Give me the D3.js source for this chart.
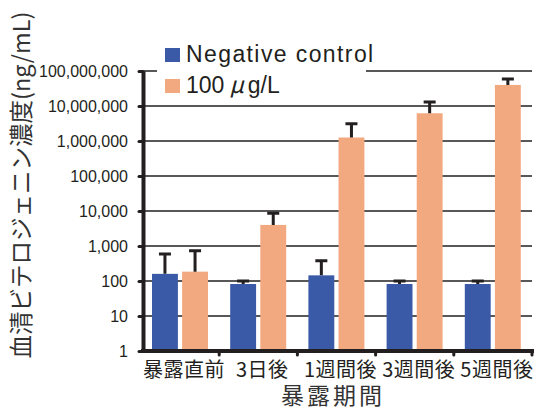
<!DOCTYPE html>
<html>
<head>
<meta charset="utf-8">
<script src="https://cdn.jsdelivr.net/npm/d3@7"></script>
<style>
  body { margin: 0; background: #fff; }
  svg { display: block; }
</style>
</head>
<body>
<div id="chart"></div>
<script>
// データ
const categories = ["暴露直前", "3日後", "1週間後", "3週間後", "5週間後"];
const seriesNames = ["Negative control", "100μg/L"];
const controlMean = [160, 82, 145, 82, 82];
const controlSD = [430, 18, 235, 18, 18];
const exposedMean = [185, 4000, 1260000, 6200000, 40000000];
const exposedSD = [545, 4600, 1840000, 6800000, 19000000];
const tickValues = [1, 10, 100, 1000, 10000, 100000, 1000000, 10000000, 100000000];

const colors = ["#3a59a6", "#f3a97f"];
const ink = "#231f20";
const width = 542, height = 408;

const data = categories.map((c, i) => ({
    cat: c,
    values: [
        { key: 0, mean: controlMean[i], sd: controlSD[i] },
        { key: 1, mean: exposedMean[i], sd: exposedSD[i] }
    ]
}));

const svg = d3.select("#chart")
    .append("svg")
    .attr("width", width)
    .attr("height", height);

const x = d3.scaleBand()
    .domain(categories)
    .range([141, 532])
    .padding(0);

const x1 = d3.scaleBand()
    .domain([0, 1])
    .range([11, 67])
    .paddingInner(0.14);

const y = d3.scaleLog()
    .domain([1, 1e8])
    .range([351, 71]);

// グリッド線
svg.append("g")
    .selectAll("line")
    .data(tickValues.slice(1))
    .enter()
    .append("line")
    .attr("x1", 143)
    .attr("x2", 532)
    .attr("y1", d => y(d))
    .attr("y2", d => y(d))
    .attr("stroke", ink)
    .attr("stroke-width", 1.5);

// 棒
const groups = svg.selectAll(".grp")
    .data(data)
    .enter()
    .append("g")
    .attr("class", "grp")
    .attr("transform", d => `translate(${x(d.cat)},0)`);

groups.selectAll("rect")
    .data(d => d.values)
    .enter()
    .append("rect")
    .attr("x", d => x1(d.key))
    .attr("width", x1.bandwidth())
    .attr("y", d => y(d.mean))
    .attr("height", d => y(1) - y(d.mean))
    .attr("fill", d => colors[d.key]);

// エラーバー
const capW = 12;
groups.selectAll(".err")
    .data(d => d.values)
    .enter()
    .append("path")
    .attr("class", "err")
    .attr("d", d => {
        const cx = x1(d.key) + x1.bandwidth() / 2;
        const top = y(d.mean + d.sd);
        return `M${cx},${y(d.mean)}V${top}M${cx - capW / 2},${top}H${cx + capW / 2}`;
    })
    .attr("fill", "none")
    .attr("stroke", ink)
    .attr("stroke-width", 3);

// 凡例（白背景）
svg.append("rect")
    .attr("x", 157)
    .attr("y", 38)
    .attr("width", 209)
    .attr("height", 62)
    .attr("fill", "#fff");

const legend = svg.append("g");
seriesNames.forEach((name, i) => {
    legend.append("rect")
        .attr("x", 165)
        .attr("y", 48 + i * 31)
        .attr("width", 15)
        .attr("height", 14)
        .attr("fill", colors[i]);
});
legend.append("text")
    .attr("x", 186)
    .attr("y", 62)
    .style("font-family", "'Liberation Sans', Arial, sans-serif")
    .style("font-size", "23px")
    .style("letter-spacing", "1.4px")
    .attr("fill", ink)
    .text(seriesNames[0]);
const t2 = legend.append("text")
    .attr("x", 186)
    .attr("y", 93)
    .style("font-family", "'Liberation Sans', Arial, sans-serif")
    .style("font-size", "23px")
    .attr("fill", ink);
t2.append("tspan").text("100");
t2.append("tspan").attr("dx", 5).style("font-family", "'Noto Sans CJK JP'").style("font-style", "italic").text("μ");
t2.append("tspan").attr("dx", 4).text("g/L");

// Y軸
const yAxis = svg.append("g")
    .attr("transform", "translate(143,0)")
    .call(d3.axisLeft(y).tickValues(tickValues).tickSizeInner(4).tickSizeOuter(0).tickPadding(11)
        .tickFormat(d3.format(",")));
yAxis.select(".domain").attr("stroke", ink).attr("stroke-width", 4);
yAxis.selectAll(".tick line").attr("stroke", ink).attr("stroke-width", 3).attr("stroke-linecap", "round");
yAxis.selectAll("text")
    .style("font-family", "'Liberation Sans', Arial, sans-serif")
    .style("font-size", "16px")
    .attr("fill", ink);

// X軸
const xAxis = svg.append("g")
    .attr("transform", "translate(0,351)")
    .call(d3.axisBottom(x).tickSize(0).tickPadding(14));
xAxis.select(".domain").remove();
xAxis.append("line")
    .attr("x1", 141).attr("x2", 534)
    .attr("stroke", ink).attr("stroke-width", 4);
xAxis.selectAll(".bnd")
    .data(categories)
    .enter()
    .append("line")
    .attr("class", "bnd")
    .attr("x1", d => x(d) + x.bandwidth())
    .attr("x2", d => x(d) + x.bandwidth())
    .attr("y1", 0)
    .attr("y2", 4)
    .attr("stroke", ink)
    .attr("stroke-width", 3)
    .attr("stroke-linecap", "round");
xAxis.selectAll(".tick text")
    .attr("dx", 4)
    .attr("dy", "0.6em")
    .style("font-family", "'Noto Sans CJK JP', sans-serif")
    .style("font-size", "20px")
    .style("letter-spacing", "0.5px")
    .attr("fill", ink);

// 軸タイトル
svg.append("text")
    .attr("x", 333)
    .attr("y", 404)
    .attr("text-anchor", "middle")
    .style("font-family", "'Noto Sans CJK JP', sans-serif")
    .style("font-size", "23px")
    .style("letter-spacing", "3px")
    .attr("fill", "#333")
    .text("暴露期間");

svg.append("text")
    .attr("transform", "translate(30,185) rotate(-90)")
    .attr("text-anchor", "middle")
    .style("font-family", "'Noto Sans CJK JP', sans-serif")
    .style("font-size", "23.5px")
    .attr("fill", "#333")
    .text("血清ビテロジェニン濃度(ng/mL)");
</script>
</body>
</html>
